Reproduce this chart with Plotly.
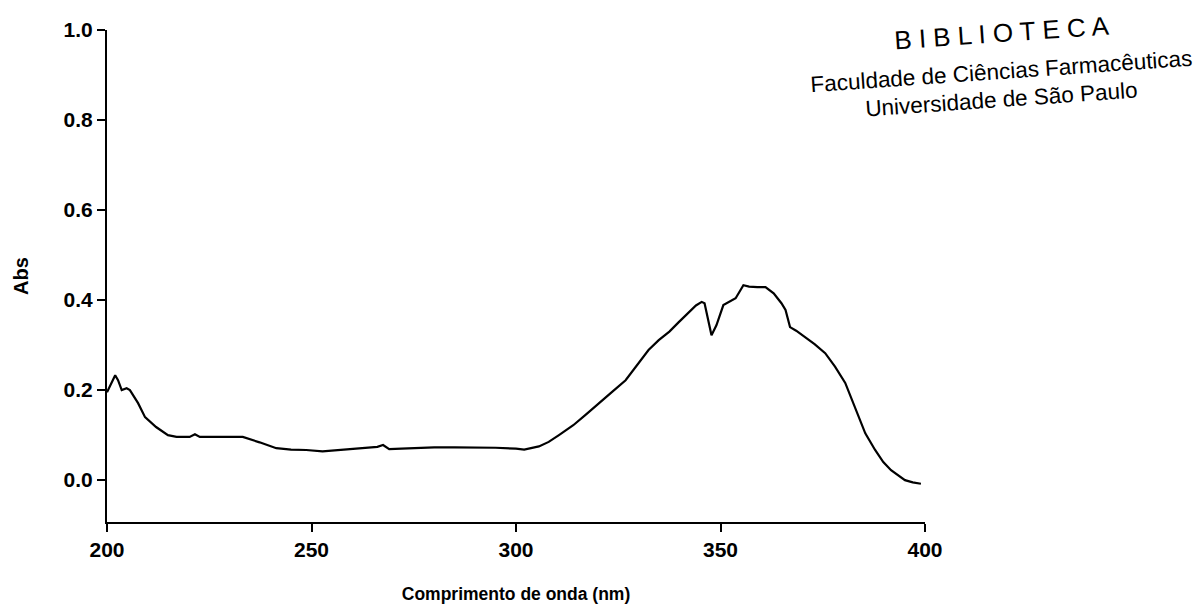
import plotly.graph_objects as go

wavelength = [200, 201, 202, 202.7, 203.6, 204.8, 205.6, 207.6, 209.3, 212, 214.9, 217, 220.2, 221.5, 222.7,
              228, 233.2, 237.3, 241.4, 245, 248.7, 252.7, 257, 260.9, 266.1, 267.5, 269, 272, 276, 280, 285,
              290, 295, 300, 302, 305.6, 308, 310.5, 314, 317, 320.2, 323.5, 326.8, 329.5, 332.4, 334.9, 337.5,
              339.8, 342.2, 344, 345.4, 346.1, 347.8, 349, 350.7, 352, 353.7, 355.6, 357, 359, 361, 363, 364.9,
              365.9, 367, 368.5, 370.7, 373, 375.6, 378, 380.5, 383, 385.4, 387.8, 389.8, 391.7, 393.5, 395.1,
              397, 399]
absorbance = [0.195, 0.216, 0.233, 0.222, 0.200, 0.204, 0.200, 0.171, 0.140, 0.118, 0.100, 0.096, 0.096, 0.102,
              0.096, 0.096, 0.096, 0.084, 0.071, 0.068, 0.067, 0.064, 0.067, 0.071, 0.074, 0.078, 0.069, 0.070,
              0.072, 0.073, 0.073, 0.073, 0.072, 0.070, 0.068, 0.075, 0.085, 0.100, 0.122, 0.145, 0.171, 0.196,
              0.222, 0.255, 0.289, 0.311, 0.330, 0.351, 0.373, 0.388, 0.396, 0.393, 0.322, 0.344, 0.389, 0.395,
              0.404, 0.433, 0.430, 0.429, 0.429, 0.415, 0.393, 0.378, 0.340, 0.332, 0.318, 0.302, 0.282, 0.252,
              0.216, 0.160, 0.104, 0.067, 0.040, 0.022, 0.010, 0.000, -0.005, -0.008]

x_ticks = [200, 250, 300, 350, 400]
x_tick_labels = ["200", "250", "300", "350", "400"]
y_ticks = [0.0, 0.2, 0.4, 0.6, 0.8, 1.0]
y_tick_labels = ["0.0", "0.2", "0.4", "0.6", "0.8", "1.0"]

stamp_lines = ["B I B L I O T E C A", "Faculdade de Ciências Farmacêuticas", "Universidade de São Paulo"]

FONT = "Liberation Sans, Arial, sans-serif"

fig = go.Figure()
fig.add_trace(go.Scatter(x=wavelength, y=absorbance, mode="lines",
                         line=dict(color="black", width=2.2), showlegend=False))

axis_font = dict(family=FONT, size=21, color="black")
fig.update_layout(
    width=1200, height=614,
    margin=dict(l=107, r=275, t=30, b=92),
    paper_bgcolor="white", plot_bgcolor="white",
    xaxis=dict(range=[200, 400], tickvals=x_ticks, ticktext=[f"<b>{t}</b>" for t in x_tick_labels],
               showgrid=False, zeroline=False, showline=True, linecolor="black", linewidth=2,
               ticks="outside", ticklen=8, tickwidth=2, tickcolor="black", tickfont=axis_font,
               title=dict(text="<b>Comprimento de onda (nm)</b>",
                          font=dict(family=FONT, size=17.5, color="black"), standoff=28)),
    yaxis=dict(range=[-0.093, 1.0], tickvals=y_ticks, ticktext=[f"<b>{t}</b>" for t in y_tick_labels],
               showgrid=False, zeroline=False, showline=True, linecolor="black", linewidth=2,
               ticks="outside", ticklen=8, tickwidth=2, tickcolor="black", tickfont=axis_font,
               title=dict(text="<b>Abs</b>", font=dict(family=FONT, size=20, color="black"), standoff=30)),
)

# stamp text (positions in axis-domain coordinates; plot area spans x 107..925 px, y 30..522 px)
stamp_pos = [(1001, 33, 26), (1001, 71, 22.5), (1001, 99, 22.5)]
for text, (px, py, size) in zip(stamp_lines, stamp_pos):
    fig.add_annotation(xref="x domain", yref="y domain",
                       x=(px - 107) / 818, y=1 - (py - 30) / 492,
                       xanchor="center", yanchor="middle",
                       text=text, showarrow=False, textangle=-4,
                       font=dict(family=FONT, size=size, color="black"))

fig.write_html("out.html")
